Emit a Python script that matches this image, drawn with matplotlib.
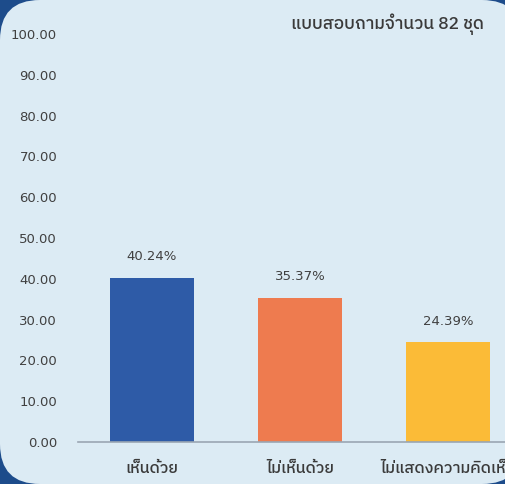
#!/usr/bin/env python3

import matplotlib
matplotlib.use("Agg")
import matplotlib.pyplot as plt
from matplotlib import font_manager
from matplotlib.ft2font import FT2Font
from matplotlib.patches import FancyBboxPatch


categories = ["เห็นด้วย", "ไม่เห็นด้วย", "ไม่แสดงความคิดเห็น"]
percents = [40.24, 35.37, 24.39]
bar_colors = ["#2e5ba7", "#ee7b4f", "#fbbb37"]
y_ticks = [0, 10, 20, 30, 40, 50, 60, 70, 80, 90, 100]
title = "แบบสอบถามจำนวน 82 ชุด"


def thai_font():
    # look for any installed font that has Thai glyphs
    fonts = sorted(font_manager.fontManager.ttflist, key=lambda f: "Thai" not in f.name)
    for f in fonts:
        try:
            if 0x0E40 in FT2Font(f.fname).get_charmap():
                return f.name
        except Exception:
            continue
    return None


def main():
    fam = thai_font()
    families = ["DejaVu Sans"] if fam is None else [fam, "DejaVu Sans"]
    plt.rcParams["font.family"] = families

    W, H = 506, 484
    fig = plt.figure(figsize=(W / 100, H / 100), dpi=100, facecolor="#1d4c8b")

    panel = FancyBboxPatch((0, 0), 522, 484, boxstyle="round,pad=0,rounding_size=40",
                           transform=None, facecolor="#dcebf4", edgecolor="none", zorder=-5)
    fig.patches.append(panel)

    ax = fig.add_axes([78 / W, (H - 442) / H, 444 / W, 408 / H])
    ax.set_facecolor("none")
    ax.set_zorder(2)

    x = range(len(categories))
    rects = ax.bar(x, percents, width=0.57, color=bar_colors)

    for rect, p in zip(rects, percents):
        ax.text(rect.get_x() + rect.get_width() / 2, p + 3.6, "{:.2f}%".format(p),
                ha="center", va="bottom", fontsize=9.5, color="#404040",
                family="DejaVu Sans")

    ax.set_xlim(-0.5, 2.5)
    ax.set_ylim(0, 100)
    ax.set_yticks(y_ticks)
    ax.set_yticklabels(["{:.2f}".format(v) for v in y_ticks], family="DejaVu Sans")
    ax.set_xticks(list(x))
    ax.set_xticklabels(categories, fontweight="medium")
    ax.tick_params(axis="y", length=0, pad=15, labelsize=9.5, labelcolor="#404040")
    ax.tick_params(axis="x", length=0, pad=13, labelsize=11.5, labelcolor="#3a3a3a")

    for side in ["top", "left", "right"]:
        ax.spines[side].set_visible(False)
    ax.spines["bottom"].set_color("#9aa6b2")
    ax.spines["bottom"].set_linewidth(1.2)

    fig.text(484 / W, (H - 24) / H, title, ha="right", va="center",
             fontsize=12.5, fontweight="medium", color="#3a3a3a")

    fig.savefig("out.png", dpi=100, facecolor=fig.get_facecolor())


if __name__ == "__main__":
    main()
